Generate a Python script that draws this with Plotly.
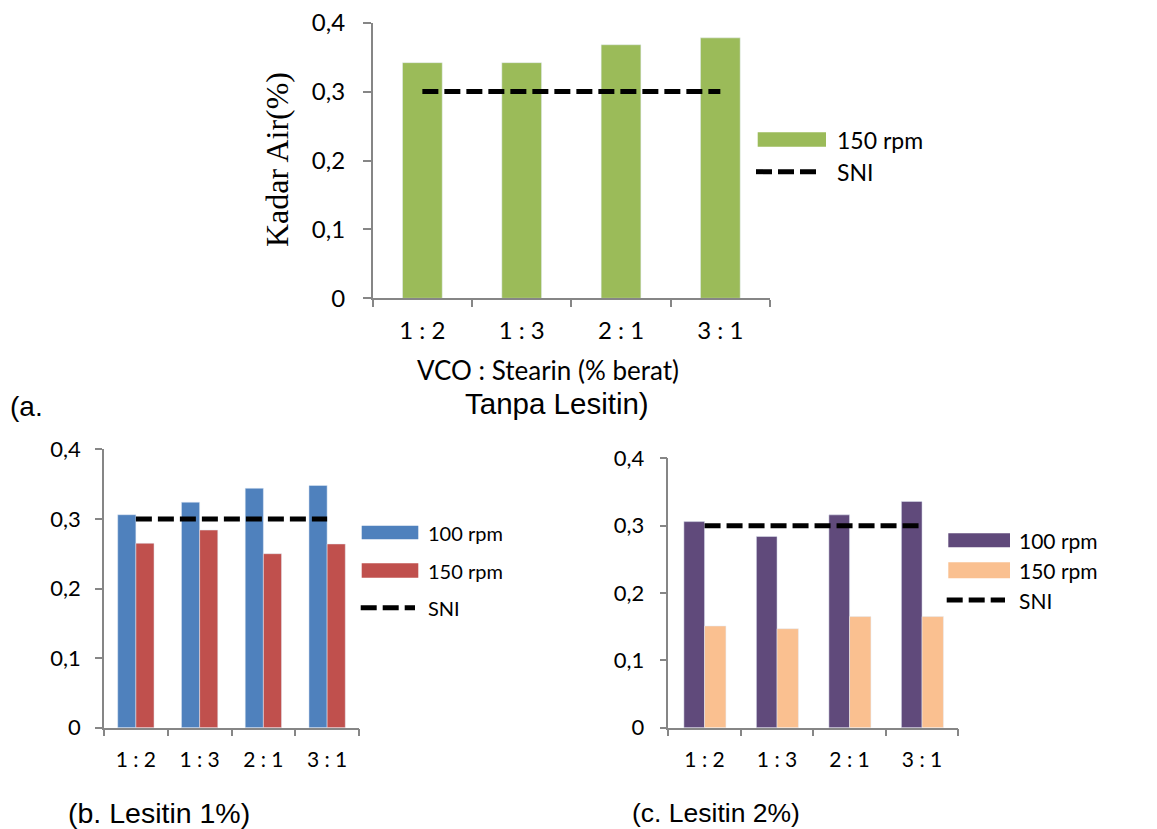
import plotly.graph_objects as go

# ---------------- data ----------------
categories = ["1 : 2", "1 : 3", "2 : 1", "3 : 1"]
a_150rpm = [0.342, 0.342, 0.368, 0.378]
b_100rpm = [0.306, 0.324, 0.344, 0.348]
b_150rpm = [0.265, 0.284, 0.250, 0.264]
c_100rpm = [0.306, 0.284, 0.316, 0.336]
c_150rpm = [0.151, 0.147, 0.165, 0.165]
sni = [0.3, 0.3, 0.3, 0.3]
y_tick_vals = [0, 0.1, 0.2, 0.3, 0.4]
y_tick_text = ["0", "0,1", "0,2", "0,3", "0,4"]

# ---------------- layout helpers ----------------
W, H = 1157, 829
def px_x(v):
    return v / W
def px_y(v):
    return 1 - v / H

AXIS_GRAY = "#868686"
CAL = "Lato, 'Open Sans', sans-serif"
ARIAL = "'Liberation Sans', Arial, sans-serif"
TIMES = "'Liberation Serif', 'Times New Roman', serif"

GREEN = "#9BBB59"
BLUE = "#4F81BD"
RED = "#C0504D"
PURPLE = "#604A7B"
PEACH = "#FAC090"
DASH = "16px,6px"

fig = go.Figure()

# chart a
fig.add_trace(go.Bar(x=categories, y=a_150rpm, name="150 rpm", marker_color=GREEN,
                     width=0.4, offset=-0.2, xaxis="x", yaxis="y", showlegend=False))
fig.add_trace(go.Scatter(x=categories, y=sni, name="SNI", mode="lines",
                         line=dict(color="black", width=5, dash=DASH),
                         xaxis="x", yaxis="y", showlegend=False))
# chart b
fig.add_trace(go.Bar(x=categories, y=b_100rpm, name="100 rpm", marker_color=BLUE,
                     width=0.285, offset=-0.285, xaxis="x2", yaxis="y2", showlegend=False))
fig.add_trace(go.Bar(x=categories, y=b_150rpm, name="150 rpm", marker_color=RED,
                     width=0.285, offset=0, xaxis="x2", yaxis="y2", showlegend=False))
fig.add_trace(go.Scatter(x=categories, y=sni, name="SNI", mode="lines",
                         line=dict(color="black", width=5, dash=DASH),
                         xaxis="x2", yaxis="y2", showlegend=False))
# chart c
fig.add_trace(go.Bar(x=categories, y=c_100rpm, name="100 rpm", marker_color=PURPLE,
                     width=0.285, offset=-0.285, xaxis="x3", yaxis="y3", showlegend=False))
fig.add_trace(go.Bar(x=categories, y=c_150rpm, name="150 rpm", marker_color=PEACH,
                     width=0.295, offset=0, xaxis="x3", yaxis="y3", showlegend=False))
fig.add_trace(go.Scatter(x=categories, y=sni, name="SNI", mode="lines",
                         line=dict(color="black", width=5, dash=DASH),
                         xaxis="x3", yaxis="y3", showlegend=False))


def xax(x0, x1, anchor, size, standoff):
    return dict(domain=[px_x(x0), px_x(x1)], anchor=anchor, type="category",
                range=[-0.5, 3.5], showline=True, linecolor=AXIS_GRAY, linewidth=1.5,
                ticks="outside", tickson="boundaries", ticklen=7, tickwidth=1.5,
                tickcolor=AXIS_GRAY, showgrid=False, zeroline=False, automargin=False,
                tickfont=dict(family=CAL, size=size, color="black"),
                ticklabelstandoff=standoff, fixedrange=True)


def yax(y_bottom, y_top, anchor, size, standoff, ticklen):
    return dict(domain=[px_y(y_bottom), px_y(y_top)], anchor=anchor,
                range=[0, 0.4], tickmode="array", tickvals=y_tick_vals,
                ticktext=y_tick_text, showline=True, linecolor=AXIS_GRAY,
                linewidth=1.5, ticks="outside", ticklen=ticklen, tickwidth=1.5,
                tickcolor=AXIS_GRAY, showgrid=False, zeroline=False, automargin=False,
                tickfont=dict(family=CAL, size=size, color="black"),
                ticklabelstandoff=standoff, fixedrange=True)


fig.update_layout(
    width=W, height=H, margin=dict(l=0, r=0, t=0, b=0, autoexpand=False),
    paper_bgcolor="white", plot_bgcolor="white", barmode="overlay",
    xaxis=xax(372.7, 770, "y", 24, 10),
    yaxis=yax(298.3, 22.7, "x", 24, 13, 8),
    xaxis2=xax(104, 359, "y2", 21, 12),
    yaxis2=yax(727.7, 449.3, "x2", 22, 10, 7),
    xaxis3=xax(668.3, 958.3, "y3", 21, 12),
    yaxis3=yax(727.7, 458.3, "x3", 22, 11, 7),
)

shapes = []
annotations = []

def text(x, y, s, size, family, xanchor="left", angle=0):
    annotations.append(dict(x=px_x(x), y=px_y(y), xref="paper", yref="paper",
                            text=s, showarrow=False, xanchor=xanchor, yanchor="middle",
                            textangle=angle,
                            font=dict(family=family, size=size, color="black")))

def rect(x0, y0, x1, y1, color):
    shapes.append(dict(type="rect", xref="paper", yref="paper",
                       x0=px_x(x0), x1=px_x(x1), y0=px_y(y1), y1=px_y(y0),
                       fillcolor=color, line=dict(width=0)))

def dash_line(x0, x1, y):
    shapes.append(dict(type="line", xref="paper", yref="paper",
                       x0=px_x(x0), x1=px_x(x1), y0=px_y(y), y1=px_y(y),
                       line=dict(color="black", width=5, dash=DASH)))

# legend a
rect(757.7, 132.3, 826, 146.7, GREEN)
text(835, 139.5, "150 rpm", 23, CAL)
dash_line(756, 820, 171.7)
text(835, 172, "SNI", 23, CAL)
# legend b
rect(361.7, 525.7, 418.3, 539.3, BLUE)
text(426, 532.5, "100 rpm", 20, CAL)
rect(361.7, 563.3, 418.3, 577.7, RED)
text(426, 570.5, "150 rpm", 20, CAL)
dash_line(360.7, 415, 607.7)
text(426, 607.7, "SNI", 20, CAL)
# legend c
rect(948.3, 533.3, 1010, 547.3, PURPLE)
text(1016.7, 540, "100 rpm", 21, CAL)
rect(948.3, 562.3, 1010, 578.3, PEACH)
text(1016.7, 570, "150 rpm", 21, CAL)
dash_line(946.7, 1005, 600)
text(1016.7, 600, "SNI", 21, CAL)

# titles
text(548, 370, "VCO : Stearin (% berat)", 26, CAL, xanchor="center")
text(556.5, 403, "Tanpa Lesitin)", 29.5, ARIAL, xanchor="center")
text(8, 406, "(a.", 28, ARIAL)
text(277, 160, "Kadar Air(%)", 32, TIMES, xanchor="center", angle=-90)
text(66, 813, "(b. Lesitin 1%)", 28.5, ARIAL)
text(630, 813, "(c. Lesitin 2%)", 26.5, ARIAL)

fig.update_layout(shapes=shapes, annotations=annotations)

fig.write_html("out.html")
